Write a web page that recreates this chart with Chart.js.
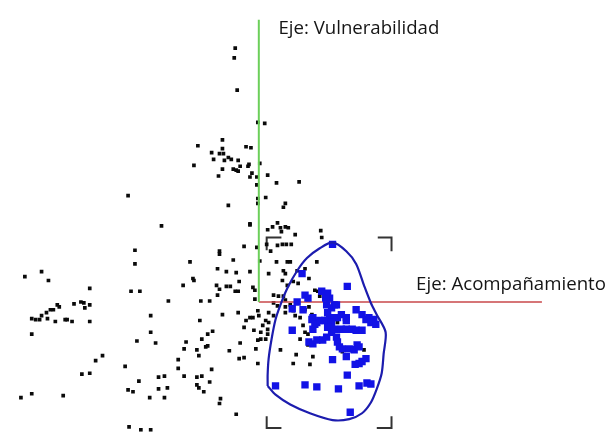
<!DOCTYPE html>
<html>
<head>
<meta charset="utf-8">
<script src="https://cdn.jsdelivr.net/npm/chart.js@4/dist/chart.umd.min.js"></script>
<style>
html,body{margin:0;padding:0;background:#fff;}
#wrap{width:612px;height:437px;}
</style>
</head>
<body>
<div id="wrap"><canvas id="c" width="612" height="437"></canvas></div>
<script>
// Black points: [x (Acompañamiento), y (Vulnerabilidad)]
const blackPoints = [
[-24,260],[-25,250],[-22,217],[-1,184],[6,183],[-37,166],
[-62,160],[-37,157],[-40,152],[-36,152],[-48,153],[-46,146],[-35,145],[-31,148],[-28,146],[-21,145],
[-13,159],[-8,158],[-66,140],[-37,136],[-26,136],[-23,135],[-21,134],[-19,139],[-11,139],[-10,141],
[-41,129],[-7,132],[-9,128],[1,142],[-2,128],[-2,120],[9,130],[18,122],[41,123],[-31,99],[-1,106],
[-1,101],[7,107],[27,101],[25,97],[-9,80],[9,74],[14,77],[19,81],[22,76],[27,77],[30,76],[23,72],[37,69],
[63,73],[64,66],[-2,56],[8,59],[19,58],[24,59],[28,59],[33,59],[12,52],[1,42],[18,41],[29,41],[32,41],
[59,41],[10,29],[25,32],[27,29],[39,32],[47,34],[51,24],[24,22],[29,17],[35,21],[40,19],[15,7],[20,6],
[25,6],[27,2],[15,-1],[57,12],[60,11],[62,6],[50,2],[35,-9],[10,-11],[15,-14],[27,-11],[47,-8],[51,-5],
[-4,12],[-4,3],[-1,-9],[0,-14],[-6,-16],[7,-19],[10,-21],[4,-24],[9,-28],[-5,-29],[2,-31],[9,-33],
[2,-38],[7,-38],[-1,-39],[-3,-48],[-1,-63],[19,-4],[27,-5],[32,-3],[37,-14],[42,-16],[54,-13],[45,-24],
[47,-31],[50,-33],[42,-38],[22,-49],[50,-44],[55,-56],[52,-64],[80,-21],[85,-51],[107,-49],[35,-63],[38,-54],
[-99,78],[-9,79],[-126,53],[-126,39],[-40,52],[-40,49],[-70,41],[-15,57],[-26,43],[-42,34],[-33,31],
[-23,30],[-9,31],[-67,24],[-66,22],[-20,21],[-77,17],[-43,17],[-40,13],[-33,16],[-29,16],[-24,11],
[-21,11],[-6,15],[-130,11],[-121,11],[-42,7],[-92,1],[-59,1],[-50,1],[-110,-14],[-37,-13],[-21,-11],
[-60,-19],[-9,-16],[-13,-19],[-15,-26],[-47,-30],[-52,-33],[-110,-31],[-58,-38],[-124,-40],[-105,-42],
[-19,-42],[-74,-41],[-76,-48],[-52,-45],[-54,-46],[-63,-49],[-30,-50],[-61,-55],[-82,-59],[-20,-58],
[-15,-57],[-82,-68],[-48,-69],[-136,-66],[-76,-76],[-102,-77],[-96,-76],[-63,-77],[-58,-76],[-50,-82],
[-122,-81],[-133,-90],[-128,-92],[-102,-89],[-93,-88],[-63,-85],[-61,-88],[-56,-92],[-111,-98],[-96,-98],
[-39,-99],[-40,-104],[-23,-115],[-132,-128],[-120,-131],[-110,-131],[-133,109],
[-238,26],[-221,31],[-214,22],[-172,14],[-205,-3],[-203,-5],[-209,-8],[-212,-8],[-216,-11],[-221,-14],
[-227,-18],[-231,-17],[-215,-17],[-223,-18],[-207,-20],[-197,-18],[-195,-18],[-190,-20],[-188,-2],
[-181,0],[-178,-1],[-177,-6],[-172,-3],[-172,-20],[-231,-33],[-159,-55],[-166,-60],[-172,-73],[-180,-74],
[-242,-98],[-231,-94],[-199,-96]
];
// Blue squares (selected group)
const bluePoints = [
[75,59],[44,29],[90,16],[64,11],[70,9],[72,4],[68,4],[47,7],[50,4],[39,0],[77,-3],[34,-7],[45,-8],
[99,-8],[105,-13],[112,-16],[117,-18],[55,-16],[59,-21],[70,-11],[72,-16],[77,-16],[80,-16],[84,-13],
[89,-16],[69,-3],[74,-6],[79,-3],[54,-18],[57,-23],[55,-28],[62,-19],[67,-19],[74,-21],[89,-19],
[109,-18],[114,-21],[119,-23],[34,-29],[70,-26],[74,-31],[77,-28],[84,-28],[89,-28],[95,-28],[99,-29],
[105,-29],[51,-41],[55,-43],[59,-39],[65,-39],[69,-36],[79,-36],[80,-41],[82,-46],[85,-48],[75,-59],
[92,-48],[97,-49],[100,-44],[102,-46],[89,-56],[98,-64],[102,-63],[105,-61],[109,-58],[90,-75],
[17,-86],[47,-85],[59,-87],[81,-89],[102,-86],[110,-83],[114,-84],[93,-113]
];
// Enclosing contour of the blue group
const hullPoints = [
[9,-86],[17,-95],[32,-105],[52,-114],[75,-121],[92,-120],[105,-114],[114,-103],[120,-89],[125,-73],
[127,-53],[129,-31],[120,-13],[114,-1],[107,17],[99,39],[89,52],[75,61],[62,55],[49,45],[39,32],
[29,14],[22,-3],[17,-18],[13,-38],[10,-58],[9,-74],[9,-86]
];
// Axes drawn inside the plot
const axisVulnerabilidad = [[0,289],[0,0]];
const axisAcompanamiento = [[0,0],[288,0]];
// Corner brackets of the selection frame
const bracketTL = [[8,53],[8,66],[23,66]];
const bracketTR = [[121,66],[135,66],[135,52]];
const bracketBL = [[8,-117],[8,-129],[23,-129]];
const bracketBR = [[120,-129],[135,-129],[135,-117]];
// Labels: [text, x, y(baseline), width]
const axisLabels = [
  ["Eje: Vulnerabilidad", 20, 274, 161],
  ["Eje: Acompañamiento", 160, 12, 190]
];

const toXY = a => a.map(p => ({x:p[0], y:p[1]}));
const lineDs = (data, color, width, order) => ({
  data: toXY(data), showLine: true, borderColor: color, borderWidth: width,
  pointRadius: 0, fill: false, tension: 0, order: order
});

const labelPlugin = {
  id: 'labels',
  afterDatasetsDraw(chart) {
    const ctx = chart.ctx, xs = chart.scales.x, ys = chart.scales.y;
    ctx.save();
    ctx.fillStyle = '#151515';
    ctx.textBaseline = 'alphabetic';
    ctx.textAlign = 'left';
    axisLabels.forEach(([t, x, y, w]) => {
      ctx.font = '16px "Open Sans"';
      const m = ctx.measureText(t).width;
      const size = 16 * w / m;
      ctx.font = size.toFixed(2) + 'px "Open Sans"';
      ctx.fillText(t, xs.getPixelForValue(x), ys.getPixelForValue(y));
    });
    ctx.restore();
  }
};

new Chart(document.getElementById('c'), {
  type: 'scatter',
  data: {
    datasets: [
      Object.assign(lineDs(hullPoints, '#1c1cae', 2.2, 0), {tension: 0.28}),
      { data: toXY(bluePoints), pointStyle: 'rect', pointRadius: 5.2, backgroundColor: '#1212e6',
        borderWidth: 0, order: 1 },
      lineDs(axisVulnerabilidad, '#6ccf5a', 2, 2),
      lineDs(axisAcompanamiento, '#c8474a', 1.5, 2),
      { data: toXY(blackPoints), pointStyle: 'rect', pointRadius: 2.6, backgroundColor: '#0a0a0a',
        borderWidth: 0, order: 3 },
      lineDs(bracketTL, '#333333', 2, 4),
      lineDs(bracketTR, '#333333', 2, 4),
      lineDs(bracketBL, '#333333', 2, 4),
      lineDs(bracketBR, '#333333', 2, 4)
    ]
  },
  options: {
    responsive: false,
    animation: false,
    layout: { padding: 0 },
    plugins: { legend: {display: false}, tooltip: {enabled: false}, title: {display: false} },
    scales: {
      x: { type: 'linear', min: -258, max: 354, display: false },
      y: { type: 'linear', min: -133, max: 304, display: false }
    }
  },
  plugins: [labelPlugin]
});
</script>
</body>
</html>
